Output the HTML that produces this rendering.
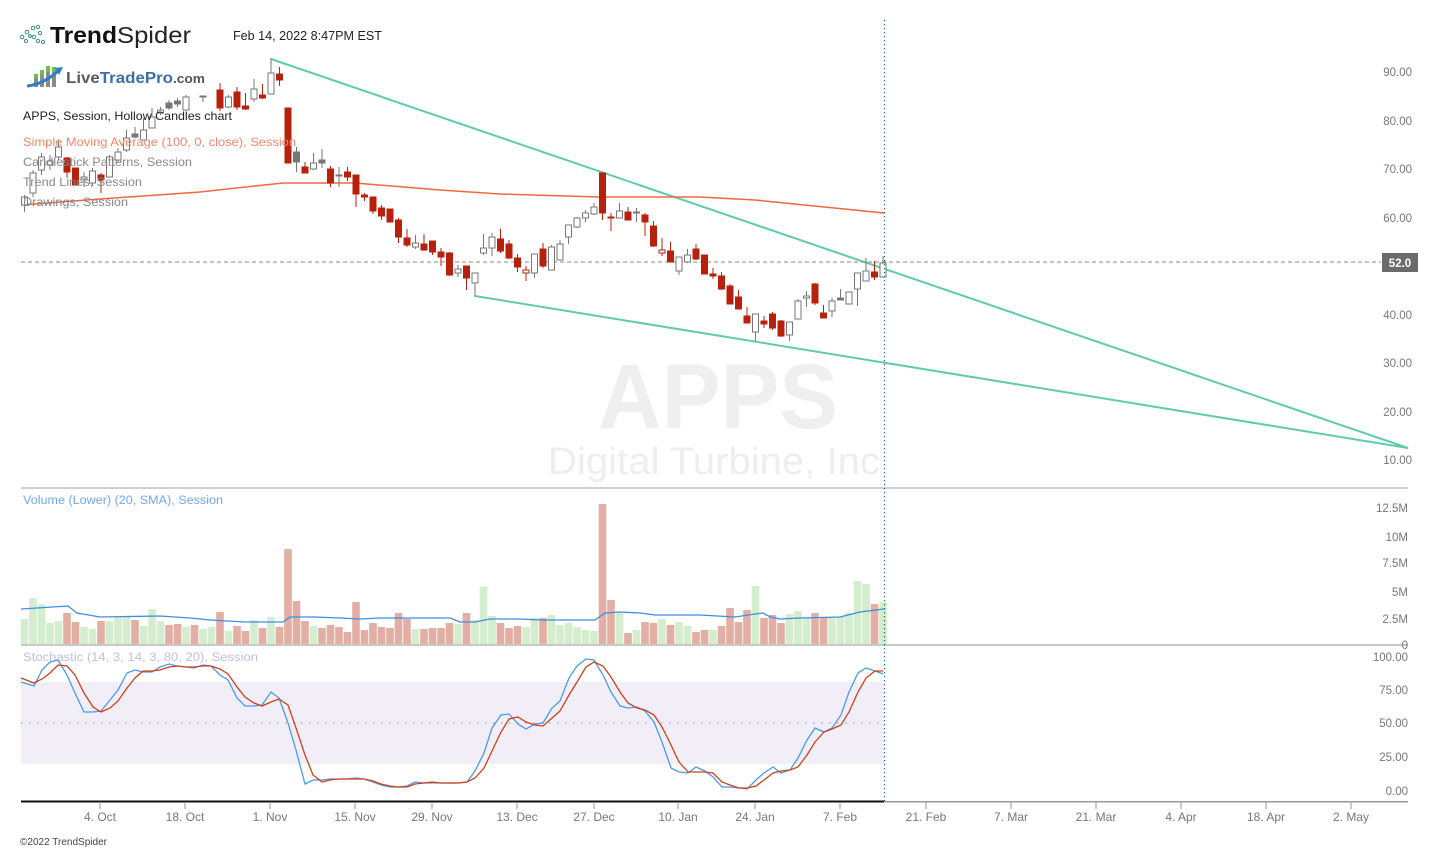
<!DOCTYPE html>
<html><head><meta charset="utf-8"><style>
html,body{margin:0;padding:0;background:#fff;}
svg{display:block;font-family:"Liberation Sans",Arial,sans-serif;}
</style></head><body>
<svg width="1438" height="851" viewBox="0 0 1438 851" xmlns="http://www.w3.org/2000/svg">
<rect width="1438" height="851" fill="#fff"/>

<!-- watermark -->
<text x="718" y="428" font-size="92" font-weight="bold" fill="#efefef" text-anchor="middle" textLength="240" lengthAdjust="spacingAndGlyphs">APPS</text>
<text x="714" y="474" font-size="38" fill="#eeeeee" text-anchor="middle" textLength="332" lengthAdjust="spacingAndGlyphs">Digital Turbine, Inc</text>

<!-- header -->
<g fill="none" stroke="#3d8f83" stroke-width="1">
<circle cx="22" cy="37" r="1.8"/><circle cx="27" cy="32" r="1.8"/><circle cx="33" cy="28" r="1.8"/><circle cx="38" cy="27" r="1.6"/>
<circle cx="40" cy="33" r="1.6"/><circle cx="34" cy="37" r="1.8"/><circle cx="38" cy="41" r="1.6"/><circle cx="43" cy="42" r="1.6"/>
<circle cx="26" cy="41" r="1.6"/><circle cx="30" cy="36" r="1.4"/>
</g>
<text x="50" y="43" font-size="23" font-weight="bold" fill="#111" textLength="67" lengthAdjust="spacingAndGlyphs">Trend</text>
<text x="117" y="43" font-size="23" fill="#222" textLength="74" lengthAdjust="spacingAndGlyphs">Spider</text>
<text x="233" y="40" font-size="13" fill="#222" textLength="149" lengthAdjust="spacingAndGlyphs">Feb 14, 2022 8:47PM EST</text>

<!-- LiveTradePro logo -->
<g>
<rect x="34" y="76" width="4" height="11" fill="#8a8a8a"/><rect x="34" y="74" width="4" height="4" fill="#6cbf4a"/>
<rect x="40" y="72" width="4" height="15" fill="#8a8a8a"/><rect x="40" y="70" width="4" height="5" fill="#6cbf4a"/>
<rect x="46" y="68" width="4" height="19" fill="#8a8a8a"/><rect x="46" y="66" width="4" height="6" fill="#6cbf4a"/>
<rect x="52" y="70" width="4" height="17" fill="#8a8a8a"/><rect x="52" y="67" width="4" height="5" fill="#6cbf4a"/>
<path d="M27 86 Q44 84 58 71" stroke="#2f7ec4" stroke-width="3" fill="none"/>
<path d="M55 68 L63 67 L59 75 Z" fill="#2f7ec4"/>
</g>
<text x="66" y="83" font-size="16" font-weight="bold" textLength="139" lengthAdjust="spacingAndGlyphs"><tspan fill="#5b5b5b">Live</tspan><tspan fill="#3e6fa6">TradePro</tspan><tspan fill="#555" font-size="13">.com</tspan></text>

<!-- trend lines -->
<g stroke="#5fcca5" stroke-width="2" fill="none">
<line x1="271" y1="59" x2="1408" y2="448"/>
<line x1="475" y1="296" x2="1408" y2="448"/>
</g>

<!-- SMA 100 -->
<polyline fill="none" stroke="#ec6a42" stroke-width="1.5" points="21,205 100,199 200,192 283,183 355,183 440,190 500,194 600,197 700,197 755,200 884,213"/>

<!-- last price dashed line -->
<line x1="21" y1="262" x2="1381" y2="262" stroke="#888" stroke-width="1" stroke-dasharray="4,3"/>

<!-- candles -->
<g stroke-width="1">
<!-- hollow gray -->
<g stroke="#777" fill="#fff">
<line x1="24.5" y1="195" x2="24.5" y2="212"/><rect x="21.5" y="197" width="6" height="8"/>
<line x1="33" y1="170" x2="33" y2="197"/><rect x="30" y="173" width="6" height="20"/>
<line x1="41.5" y1="153" x2="41.5" y2="175"/><rect x="38.5" y="157" width="6" height="13"/>
<line x1="50" y1="155" x2="50" y2="170"/><rect x="47" y="161" width="6" height="4"/>
<line x1="58.5" y1="140" x2="58.5" y2="160"/><rect x="55.5" y="147" width="6" height="10"/>
<line x1="84" y1="172" x2="84" y2="187"/><rect x="81" y="177" width="6" height="2"/>
<line x1="92.5" y1="168" x2="92.5" y2="186"/><rect x="89.5" y="171" width="6" height="12"/>
<line x1="109.5" y1="155" x2="109.5" y2="177"/><rect x="106.5" y="157" width="6" height="20"/>
<line x1="118" y1="148" x2="118" y2="163"/><rect x="115" y="152" width="6" height="8"/>
<line x1="126.5" y1="130" x2="126.5" y2="152"/><rect x="123.5" y="138" width="6" height="12"/>
<line x1="143.5" y1="118" x2="143.5" y2="140"/><rect x="140.5" y="130" width="6" height="10"/>
<line x1="152" y1="108" x2="152" y2="128"/><rect x="149" y="117" width="6" height="11"/>
<line x1="160.5" y1="107" x2="160.5" y2="115"/><rect x="157.5" y="110" width="6" height="3"/>
<line x1="186" y1="95" x2="186" y2="110"/><rect x="183" y="97" width="6" height="13"/>
<line x1="228.5" y1="95" x2="228.5" y2="108"/><rect x="225.5" y="97" width="6" height="10"/>
<line x1="254" y1="79" x2="254" y2="102"/><rect x="251" y="89" width="6" height="10"/>
<line x1="271" y1="58" x2="271" y2="94"/><rect x="268" y="73" width="6" height="21"/>
<line x1="313.5" y1="153" x2="313.5" y2="170"/><rect x="310.5" y="163" width="6" height="6"/>
<line x1="415.5" y1="235" x2="415.5" y2="249"/><rect x="412.5" y="243" width="6" height="4"/>
<line x1="458" y1="265" x2="458" y2="277"/><rect x="455" y="269" width="6" height="4"/>
<line x1="475" y1="273" x2="475" y2="297"/><rect x="472" y="273" width="6" height="10"/>
<line x1="483.5" y1="234" x2="483.5" y2="255"/><rect x="480.5" y="248" width="6" height="5"/>
<line x1="492" y1="233" x2="492" y2="256"/><rect x="489" y="237" width="6" height="11"/>
<line x1="534.5" y1="254" x2="534.5" y2="278"/><rect x="531.5" y="254" width="6" height="19"/>
<line x1="551.5" y1="245" x2="551.5" y2="270"/><rect x="548.5" y="247" width="6" height="23"/>
<line x1="560" y1="240" x2="560" y2="260"/><rect x="557" y="244" width="6" height="16"/>
<line x1="568.5" y1="225" x2="568.5" y2="244"/><rect x="565.5" y="225" width="6" height="12"/>
<line x1="577" y1="217" x2="577" y2="228"/><rect x="574" y="218" width="6" height="9"/>
<line x1="585.5" y1="210" x2="585.5" y2="222"/><rect x="582.5" y="213" width="6" height="5"/>
<line x1="594" y1="203" x2="594" y2="215"/><rect x="591" y="207" width="6" height="7"/>
<line x1="619.5" y1="203" x2="619.5" y2="218"/><rect x="616.5" y="211" width="6" height="7"/>
<line x1="679" y1="257" x2="679" y2="275"/><rect x="676" y="257" width="6" height="14"/>
<line x1="687.5" y1="249" x2="687.5" y2="263"/><rect x="684.5" y="255" width="6" height="7"/>
<line x1="755.5" y1="314" x2="755.5" y2="341"/><rect x="752.5" y="314" width="6" height="18"/>
<line x1="789.5" y1="322" x2="789.5" y2="341"/><rect x="786.5" y="322" width="6" height="13"/>
<line x1="798" y1="299" x2="798" y2="319"/><rect x="795" y="301" width="6" height="18"/>
<line x1="806.5" y1="291" x2="806.5" y2="307"/><rect x="803.5" y="296" width="6" height="2"/>
<line x1="832" y1="298" x2="832" y2="317"/><rect x="829" y="301" width="6" height="10"/>
<line x1="849" y1="292" x2="849" y2="304"/><rect x="846" y="292" width="6" height="12"/>
<line x1="857.5" y1="273" x2="857.5" y2="306"/><rect x="854.5" y="273" width="6" height="16"/>
<line x1="866" y1="258" x2="866" y2="281"/><rect x="863" y="271" width="6" height="10"/>
<line x1="883" y1="256" x2="883" y2="277"/><rect x="880" y="263" width="6" height="14"/>
</g>
<!-- gray filled -->
<g stroke="#777" fill="#777">
<line x1="135" y1="127" x2="135" y2="138"/><rect x="132" y="134" width="6" height="3"/>
<line x1="169" y1="100" x2="169" y2="110"/><rect x="166" y="103" width="6" height="5"/>
<line x1="177.5" y1="98" x2="177.5" y2="107"/><rect x="174.5" y="101" width="6" height="3"/>
<line x1="203" y1="96" x2="203" y2="102"/><rect x="200" y="96" width="6" height="1"/>
<line x1="296.5" y1="147" x2="296.5" y2="172"/><rect x="293.5" y="152" width="6" height="10"/>
<line x1="322" y1="149" x2="322" y2="168"/><rect x="319" y="160" width="6" height="3"/>
<line x1="339" y1="167" x2="339" y2="187"/><rect x="336" y="175" width="6" height="1"/>
<line x1="636.5" y1="208" x2="636.5" y2="222"/><rect x="633.5" y="212" width="6" height="1"/>
<line x1="840.5" y1="289" x2="840.5" y2="300"/><rect x="837.5" y="298" width="6" height="2"/>
</g>
<!-- red filled -->
<g stroke="#b8200e" fill="#b8200e">
<line x1="67" y1="157" x2="67" y2="177"/><rect x="64" y="158" width="6" height="14"/>
<line x1="75.5" y1="168" x2="75.5" y2="185"/><rect x="72.5" y="168" width="6" height="17"/>
<line x1="101" y1="173" x2="101" y2="193"/><rect x="98" y="175" width="6" height="5"/>
<line x1="220" y1="83" x2="220" y2="111"/><rect x="217" y="90" width="6" height="18"/>
<line x1="237" y1="87" x2="237" y2="110"/><rect x="234" y="92" width="6" height="15"/>
<line x1="245.5" y1="93" x2="245.5" y2="110"/><rect x="242.5" y="106" width="6" height="3"/>
<line x1="262.5" y1="84" x2="262.5" y2="99"/><rect x="259.5" y="95" width="6" height="3"/>
<line x1="279.5" y1="67" x2="279.5" y2="86"/><rect x="276.5" y="74" width="6" height="6"/>
<line x1="288" y1="108" x2="288" y2="163"/><rect x="285" y="108" width="6" height="55"/>
<line x1="305" y1="162" x2="305" y2="173"/><rect x="302" y="167" width="6" height="6"/>
<line x1="330.5" y1="166" x2="330.5" y2="187"/><rect x="327.5" y="169" width="6" height="14"/>
<line x1="347.5" y1="167" x2="347.5" y2="181"/><rect x="344.5" y="172" width="6" height="5"/>
<line x1="356" y1="175" x2="356" y2="207"/><rect x="353" y="175" width="6" height="19"/>
<line x1="364.5" y1="193" x2="364.5" y2="201"/><rect x="361.5" y="195" width="6" height="2"/>
<line x1="373" y1="197" x2="373" y2="214"/><rect x="370" y="197" width="6" height="14"/>
<line x1="381.5" y1="205" x2="381.5" y2="220"/><rect x="378.5" y="208" width="6" height="8"/>
<line x1="390" y1="209" x2="390" y2="222"/><rect x="387" y="209" width="6" height="13"/>
<line x1="398.5" y1="218" x2="398.5" y2="243"/><rect x="395.5" y="220" width="6" height="17"/>
<line x1="407" y1="229" x2="407" y2="247"/><rect x="404" y="238" width="6" height="7"/>
<line x1="424" y1="234" x2="424" y2="251"/><rect x="421" y="244" width="6" height="6"/>
<line x1="432.5" y1="241" x2="432.5" y2="255"/><rect x="429.5" y="241" width="6" height="11"/>
<line x1="441" y1="248" x2="441" y2="266"/><rect x="438" y="252" width="6" height="5"/>
<line x1="449.5" y1="252" x2="449.5" y2="276"/><rect x="446.5" y="253" width="6" height="22"/>
<line x1="466.5" y1="266" x2="466.5" y2="290"/><rect x="463.5" y="266" width="6" height="12"/>
<line x1="500.5" y1="229" x2="500.5" y2="253"/><rect x="497.5" y="239" width="6" height="12"/>
<line x1="509" y1="240" x2="509" y2="259"/><rect x="506" y="244" width="6" height="14"/>
<line x1="517.5" y1="254" x2="517.5" y2="272"/><rect x="514.5" y="258" width="6" height="9"/>
<line x1="543" y1="243" x2="543" y2="268"/><rect x="540" y="249" width="6" height="17"/>
<line x1="602.5" y1="173" x2="602.5" y2="220"/><rect x="599.5" y="173" width="6" height="40"/>
<line x1="611" y1="213" x2="611" y2="231"/><rect x="608" y="217" width="6" height="1"/>
<line x1="628" y1="207" x2="628" y2="220"/><rect x="625" y="212" width="6" height="8"/>
<line x1="645" y1="213" x2="645" y2="236"/><rect x="642" y="215" width="6" height="7"/>
<line x1="653.5" y1="221" x2="653.5" y2="247"/><rect x="650.5" y="226" width="6" height="20"/>
<line x1="670.5" y1="242" x2="670.5" y2="262"/><rect x="667.5" y="251" width="6" height="11"/>
<line x1="696" y1="244" x2="696" y2="260"/><rect x="693" y="249" width="6" height="10"/>
<line x1="704.5" y1="255" x2="704.5" y2="274"/><rect x="701.5" y="255" width="6" height="19"/>
<line x1="713" y1="268" x2="713" y2="279"/><rect x="710" y="274" width="6" height="2"/>
<line x1="721.5" y1="272" x2="721.5" y2="290"/><rect x="718.5" y="276" width="6" height="13"/>
<line x1="730" y1="284" x2="730" y2="304"/><rect x="727" y="286" width="6" height="18"/>
<line x1="738.5" y1="290" x2="738.5" y2="309"/><rect x="735.5" y="297" width="6" height="12"/>
<line x1="747" y1="307" x2="747" y2="323"/><rect x="744" y="316" width="6" height="7"/>
<line x1="764" y1="316" x2="764" y2="328"/><rect x="761" y="321" width="6" height="3"/>
<line x1="772.5" y1="312" x2="772.5" y2="330"/><rect x="769.5" y="314" width="6" height="14"/>
<line x1="781" y1="320" x2="781" y2="337"/><rect x="778" y="321" width="6" height="15"/>
<line x1="815" y1="283" x2="815" y2="305"/><rect x="812" y="284" width="6" height="19"/>
<line x1="823.5" y1="305" x2="823.5" y2="318"/><rect x="820.5" y="313" width="6" height="5"/>
<line x1="874.5" y1="261" x2="874.5" y2="280"/><rect x="871.5" y="272" width="6" height="5"/>
</g>
<!-- red hollow -->
<g stroke="#b8200e" fill="#fff">
<line x1="526" y1="266" x2="526" y2="281"/><rect x="523" y="270" width="6" height="3"/>
<line x1="662" y1="238" x2="662" y2="256"/><rect x="659" y="250" width="6" height="3"/>
</g>
</g>

<!-- legend -->
<text x="23" y="120" font-size="12" fill="#222" textLength="209" lengthAdjust="spacingAndGlyphs">APPS, Session, Hollow Candles chart</text>
<text x="23" y="146" font-size="12" fill="#f0876a" textLength="273" lengthAdjust="spacingAndGlyphs">Simple Moving Average (100, 0, close), Session</text>
<text x="23" y="166" font-size="12" fill="#888" textLength="169" lengthAdjust="spacingAndGlyphs">Candlestick Patterns, Session</text>
<text x="23" y="186" font-size="12" fill="#888" textLength="119" lengthAdjust="spacingAndGlyphs">Trend Lines, Session</text>
<text x="23" y="206" font-size="12" fill="#888" textLength="105" lengthAdjust="spacingAndGlyphs">Drawings, Session</text>

<!-- price axis -->
<g font-size="11.5" fill="#777" text-anchor="end">
<text x="1412" y="76">90.00</text>
<text x="1412" y="125">80.00</text>
<text x="1412" y="173">70.00</text>
<text x="1412" y="222">60.00</text>
<text x="1412" y="319">40.00</text>
<text x="1412" y="367">30.00</text>
<text x="1412" y="416">20.00</text>
<text x="1412" y="464">10.00</text>
</g>
<rect x="1382" y="253" width="36" height="19" fill="#6b6b6b"/>
<text x="1400" y="267" font-size="11.5" font-weight="bold" fill="#fff" text-anchor="middle">52.0</text>

<!-- separator main/volume -->
<rect x="21" y="487" width="1387" height="2" fill="#cfcfcf"/>

<!-- volume -->
<text x="23" y="504" font-size="11.5" fill="#6fa8ec" textLength="200" lengthAdjust="spacingAndGlyphs">Volume (Lower) (20, SMA), Session</text>
<g fill="#d4edcf">
<rect x="20.7" y="619" width="7.6" height="25"/><rect x="29.2" y="598" width="7.6" height="46"/><rect x="37.7" y="604" width="7.6" height="40"/><rect x="46.2" y="623" width="7.6" height="21"/><rect x="54.7" y="621" width="7.6" height="23"/>
<rect x="80.2" y="627" width="7.6" height="17"/><rect x="88.7" y="629" width="7.6" height="15"/><rect x="105.7" y="621" width="7.6" height="23"/><rect x="114.2" y="617" width="7.6" height="27"/><rect x="122.7" y="617" width="7.6" height="27"/>
<rect x="139.7" y="626" width="7.6" height="18"/><rect x="148.2" y="609" width="7.6" height="35"/><rect x="156.7" y="621" width="7.6" height="23"/><rect x="182.2" y="627" width="7.6" height="17"/><rect x="199.2" y="629" width="7.6" height="15"/>
<rect x="207.7" y="627" width="7.6" height="17"/><rect x="224.7" y="631" width="7.6" height="13"/><rect x="250.2" y="620" width="7.6" height="24"/><rect x="267.2" y="617" width="7.6" height="27"/><rect x="309.7" y="626" width="7.6" height="18"/>
<rect x="411.7" y="629" width="7.6" height="15"/><rect x="454.2" y="624" width="7.6" height="20"/><rect x="471.2" y="620" width="7.6" height="24"/><rect x="479.7" y="587" width="7.6" height="57"/><rect x="488.2" y="616" width="7.6" height="28"/>
<rect x="522.2" y="627" width="7.6" height="17"/><rect x="530.7" y="618" width="7.6" height="26"/><rect x="547.7" y="615" width="7.6" height="29"/><rect x="556.2" y="625" width="7.6" height="19"/><rect x="564.7" y="623" width="7.6" height="21"/>
<rect x="573.2" y="627" width="7.6" height="17"/><rect x="581.7" y="630" width="7.6" height="14"/><rect x="590.2" y="631" width="7.6" height="13"/><rect x="615.7" y="613" width="7.6" height="31"/><rect x="632.7" y="630" width="7.6" height="14"/>
<rect x="658.2" y="619" width="7.6" height="25"/><rect x="675.2" y="622" width="7.6" height="22"/><rect x="683.7" y="626" width="7.6" height="18"/><rect x="709.2" y="630" width="7.6" height="14"/><rect x="751.7" y="586" width="7.6" height="58"/>
<rect x="785.7" y="614" width="7.6" height="30"/><rect x="794.2" y="611" width="7.6" height="33"/><rect x="802.7" y="618" width="7.6" height="26"/><rect x="828.2" y="617" width="7.6" height="27"/><rect x="836.7" y="617" width="7.6" height="27"/>
<rect x="845.2" y="613" width="7.6" height="31"/><rect x="853.7" y="581" width="7.6" height="63"/><rect x="862.2" y="584" width="7.6" height="60"/><rect x="879.2" y="602" width="7.6" height="42"/>
</g>
<g fill="#e3aea3">
<rect x="63.2" y="613" width="7.6" height="31"/><rect x="71.7" y="622" width="7.6" height="22"/><rect x="97.2" y="621" width="7.6" height="23"/><rect x="131.2" y="620" width="7.6" height="24"/><rect x="165.2" y="625" width="7.6" height="19"/>
<rect x="173.7" y="624" width="7.6" height="20"/><rect x="190.7" y="625" width="7.6" height="19"/><rect x="216.2" y="612" width="7.6" height="32"/><rect x="233.2" y="626" width="7.6" height="18"/><rect x="241.7" y="631" width="7.6" height="13"/>
<rect x="258.7" y="628" width="7.6" height="16"/><rect x="275.7" y="627" width="7.6" height="17"/><rect x="284.2" y="549" width="7.6" height="95"/><rect x="292.7" y="601" width="7.6" height="43"/><rect x="301.2" y="621" width="7.6" height="23"/>
<rect x="318.2" y="628" width="7.6" height="16"/><rect x="326.7" y="625" width="7.6" height="19"/><rect x="335.2" y="627" width="7.6" height="17"/><rect x="343.7" y="632" width="7.6" height="12"/><rect x="352.2" y="602" width="7.6" height="42"/>
<rect x="360.7" y="630" width="7.6" height="14"/><rect x="369.2" y="623" width="7.6" height="21"/><rect x="377.7" y="627" width="7.6" height="17"/><rect x="386.2" y="628" width="7.6" height="16"/><rect x="394.7" y="613" width="7.6" height="31"/>
<rect x="403.2" y="619" width="7.6" height="25"/><rect x="420.2" y="629" width="7.6" height="15"/><rect x="428.7" y="628" width="7.6" height="16"/><rect x="437.2" y="628" width="7.6" height="16"/><rect x="445.7" y="623" width="7.6" height="21"/>
<rect x="462.7" y="613" width="7.6" height="31"/><rect x="496.7" y="623" width="7.6" height="21"/><rect x="505.2" y="628" width="7.6" height="16"/><rect x="513.7" y="626" width="7.6" height="18"/><rect x="539.2" y="618" width="7.6" height="26"/>
<rect x="598.7" y="504" width="7.6" height="140"/><rect x="607.2" y="600" width="7.6" height="44"/><rect x="624.2" y="633" width="7.6" height="11"/><rect x="641.2" y="622" width="7.6" height="22"/><rect x="649.7" y="623" width="7.6" height="21"/>
<rect x="666.7" y="625" width="7.6" height="19"/><rect x="692.2" y="632" width="7.6" height="12"/><rect x="700.7" y="630" width="7.6" height="14"/><rect x="717.7" y="626" width="7.6" height="18"/><rect x="726.2" y="608" width="7.6" height="36"/>
<rect x="734.7" y="622" width="7.6" height="22"/><rect x="743.2" y="610" width="7.6" height="34"/><rect x="760.2" y="618" width="7.6" height="26"/><rect x="768.7" y="615" width="7.6" height="29"/><rect x="777.2" y="623" width="7.6" height="21"/>
<rect x="811.2" y="613" width="7.6" height="31"/><rect x="819.7" y="617" width="7.6" height="27"/><rect x="870.7" y="604" width="7.6" height="40"/>
</g>
<polyline fill="none" stroke="#3c8ee0" stroke-width="1.3" points="21,609 68,606 77,613 100,617 160,616 190,618 210,620 245,622 283,622 290,617 315,617 340,618 360,619 380,618 420,618 450,618 460,622 475,622 490,619 520,619 540,620 595,620 605,613 620,612 640,613 655,615 700,615 735,617 755,614 763,613 770,617 780,619 800,618 840,617 860,612 884,609"/>
<rect x="21" y="644" width="1387" height="2" fill="#c8c8c8"/>
<g font-size="11.5" fill="#777" text-anchor="end">
<text x="1408" y="512">12.5M</text>
<text x="1408" y="541">10M</text>
<text x="1408" y="567">7.5M</text>
<text x="1408" y="596">5M</text>
<text x="1408" y="623">2.5M</text>
<text x="1408" y="649">0</text>
</g>

<!-- stochastic -->
<rect x="21" y="682" width="863" height="82" fill="#f1eef8"/>
<line x1="21" y1="723" x2="884" y2="723" stroke="#b3a3e3" stroke-width="1.5" stroke-dasharray="1.5,6.5"/>
<text x="23" y="661" font-size="11.5" fill="#c5bce0" textLength="235" lengthAdjust="spacingAndGlyphs">Stochastic (14, 3, 14, 3, 80, 20), Session</text>
<polyline fill="none" stroke="#4a9af0" stroke-width="1.3" points="21,682 34,686 42,670 50,662 58,660 67,675 75,693 84,712 93,712 101,711 110,700 118,690 127,673 135,670 143,672 152,672 160,667 169,664 177,666 186,667 194,668 203,665 211,666 220,675 228,680 237,698 245,706 254,706 262,705 271,692 279,698 288,723 296,750 305,784 313,780 322,780 330,779 339,779 347,779 356,778 364,779 373,782 381,785 390,787 398,787 407,786 415,782 424,783 432,783 441,783 449,783 458,783 467,782 475,771 484,753 492,728 501,715 509,714 518,724 526,729 535,724 543,723 552,708 560,701 569,678 577,666 586,659 594,660 603,675 611,692 620,706 628,708 637,707 645,711 654,722 662,742 671,768 679,772 688,773 696,767 705,771 713,777 722,787 730,787 739,788 747,789 756,780 764,773 773,767 781,773 790,770 798,758 807,740 815,728 824,732 832,728 841,715 849,692 858,673 866,668 875,671 883,674"/>
<polyline fill="none" stroke="#d2401a" stroke-width="1.3" points="21,678 34,683 42,679 50,673 58,665 67,666 75,675 84,693 93,707 101,712 110,708 118,701 127,688 135,678 143,671 152,671 160,670 169,667 177,666 186,667 194,667 203,666 211,666 220,669 228,674 237,687 245,697 254,703 262,706 271,702 279,699 288,705 296,728 305,755 313,775 322,782 330,780 339,779 347,779 356,779 364,779 373,781 381,784 390,786 398,787 407,787 415,784 424,783 432,782 441,783 449,783 458,783 467,782 475,778 484,768 492,751 501,732 509,719 518,717 526,722 535,725 543,726 552,718 560,711 569,695 577,682 586,667 594,662 603,666 611,677 620,692 628,703 637,708 645,710 654,715 662,727 671,745 679,762 688,772 696,772 705,772 713,773 722,782 730,785 739,788 747,788 756,786 764,780 773,773 781,771 790,770 798,767 807,755 815,742 824,732 832,729 841,725 849,712 858,692 866,678 875,671 883,671"/>
<g font-size="11.5" fill="#777" text-anchor="end">
<text x="1408" y="661">100.00</text>
<text x="1408" y="694">75.00</text>
<text x="1408" y="727">50.00</text>
<text x="1408" y="761">25.00</text>
<text x="1408" y="795">0.00</text>
</g>

<!-- x axis -->
<rect x="884" y="801" width="524" height="1.5" fill="#9a9a9a"/>
<rect x="21" y="800.5" width="863" height="2" fill="#111"/>
<g stroke="#999" stroke-width="1">
<line x1="100" y1="802" x2="100" y2="809"/><line x1="185" y1="802" x2="185" y2="809"/><line x1="270" y1="802" x2="270" y2="809"/><line x1="355" y1="802" x2="355" y2="809"/>
<line x1="432" y1="802" x2="432" y2="809"/><line x1="517" y1="802" x2="517" y2="809"/><line x1="594" y1="802" x2="594" y2="809"/><line x1="678" y1="802" x2="678" y2="809"/>
<line x1="755" y1="802" x2="755" y2="809"/><line x1="840" y1="802" x2="840" y2="809"/><line x1="926" y1="802" x2="926" y2="809"/><line x1="1011" y1="802" x2="1011" y2="809"/>
<line x1="1096" y1="802" x2="1096" y2="809"/><line x1="1181" y1="802" x2="1181" y2="809"/><line x1="1266" y1="802" x2="1266" y2="809"/><line x1="1351" y1="802" x2="1351" y2="809"/>
</g>
<g font-size="12" fill="#777" text-anchor="middle">
<text x="100" y="821">4. Oct</text><text x="185" y="821">18. Oct</text><text x="270" y="821">1. Nov</text><text x="355" y="821">15. Nov</text>
<text x="432" y="821">29. Nov</text><text x="517" y="821">13. Dec</text><text x="594" y="821">27. Dec</text><text x="678" y="821">10. Jan</text>
<text x="755" y="821">24. Jan</text><text x="840" y="821">7. Feb</text><text x="926" y="821">21. Feb</text><text x="1011" y="821">7. Mar</text>
<text x="1096" y="821">21. Mar</text><text x="1181" y="821">4. Apr</text><text x="1266" y="821">18. Apr</text><text x="1351" y="821">2. May</text>
</g>
<text x="20" y="845" font-size="10" fill="#444" textLength="87" lengthAdjust="spacingAndGlyphs">©2022 TrendSpider</text>

<!-- current time dotted line -->
<line x1="884.5" y1="20" x2="884.5" y2="801" stroke="#0d6b62" stroke-width="1.2" stroke-dasharray="1.2,2.8"/>
</svg>
</body></html>
